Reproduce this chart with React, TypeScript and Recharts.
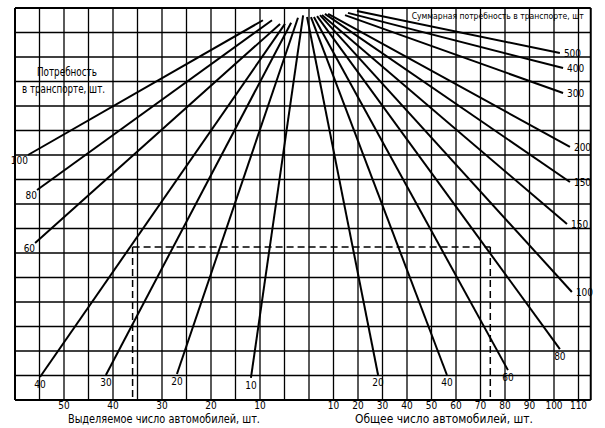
import React from 'react';
import {
  ComposedChart,
  Line,
  XAxis,
  YAxis,
  ReferenceLine,
  ReferenceArea,
  ReferenceDot,
  LabelList,
} from 'recharts';

// ---- Nomogram data (x: unified axis unit, left side = -2 x "выделяемое", right side = "общее"; y: grid rows) ----
const leftLabels = ['100', '80', '60', '40', '30', '20', '10'];
const leftOuterX = [-114.7, -111.0, -111.8, -109.8, -82.9, -53.9, -23.7];
const leftOuterY = [10.0, 8.57, 6.41, 0.94, 1.02, 1.06, 0.9];
const leftInnerX = [-18.8, -15.1, -11.8, -9.8, -7.3, -4.5, -2.4];
const leftInnerY = [15.5, 15.5, 15.35, 15.35, 15.4, 15.6, 15.7];

const rightLabels = ['500', '400', '300', '200', '150', '150', '100', '80', '60', '40', '20'];
const rightOuterX = [102.4, 103.7, 103.7, 106.5, 106.5, 105.3, 107.3, 102.4, 81.2, 56.3, 28.2];
const rightOuterY = [14.16, 13.55, 12.53, 10.33, 8.9, 7.18, 4.41, 2.08, 1.22, 1.02, 1.02];
const rightInnerX = [19.6, 15.9, 14.7, 7.8, 6.5, 5.3, 4.5, 3.3, 2.0, 0.8, -0.8];
const rightInnerY = [15.88, 15.8, 15.71, 15.76, 15.76, 15.71, 15.71, 15.67, 15.63, 15.63, 15.63];

// example reading (dashed): 36 allocated cars -> 74 total cars
const exampleAllocated = 36;
const exampleTotal = 74;
const exampleRow = 6.25;

const leftTickValues = [50, 40, 30, 20, 10];
const rightTickValues = [10, 20, 30, 40, 50, 60, 70, 80, 90, 100, 110];

const gridX = [-110, -100, -90, -80, -70, -60, -50, -40, -30, -20, -10, 0, 10, 20, 30, 40, 50, 60, 70, 80, 90, 100, 110];
const gridY = [1, 2, 3, 4, 5, 6, 7, 8, 9, 10, 11, 12, 13, 14, 15];

const X_MIN = -120;
const X_MAX = 115;
const Y_MIN = 0;
const Y_MAX = 16;

const FONT = "'Liberation Sans Narrow','DejaVu Sans Condensed','Arial Narrow',sans-serif";

type Pt = { u: number; v: number; lab?: string };

const leftSeries: { side: string; data: Pt[] }[] = leftLabels.map((lab, i) => ({
  side: leftOuterY[i] < 2.5 ? 'below' : 'left',
  data: [
    { u: leftInnerX[i], v: leftInnerY[i] },
    { u: leftOuterX[i], v: leftOuterY[i], lab },
  ],
}));

const rightSeries: { side: string; data: Pt[] }[] = rightLabels.map((lab, i) => ({
  side: rightOuterY[i] < 2.5 ? 'below' : 'right',
  data: [
    { u: rightInnerX[i], v: rightInnerY[i] },
    { u: rightOuterX[i], v: rightOuterY[i], lab },
  ],
}));

const dashH: Pt[] = [
  { u: -2 * exampleAllocated, v: exampleRow },
  { u: exampleTotal, v: exampleRow },
];
const dashL: Pt[] = [
  { u: -2 * exampleAllocated, v: exampleRow },
  { u: -2 * exampleAllocated, v: Y_MIN },
];
const dashR: Pt[] = [
  { u: exampleTotal, v: exampleRow },
  { u: exampleTotal, v: Y_MIN },
];

function makeLabel(side: string) {
  return (p: any) => {
    const { x, y, value } = p;
    if (value === undefined || value === null || value === '') return null;
    let tx = x;
    let ty = y;
    let anchor: 'start' | 'middle' | 'end' = 'middle';
    if (side === 'left') {
      tx = x;
      ty = y + 9;
      anchor = 'end';
    } else if (side === 'right') {
      tx = x + 4;
      ty = y + 4;
      anchor = 'start';
    } else {
      ty = y + 11;
    }
    return (
      <text x={tx} y={ty} textAnchor={anchor} fontSize={10} fontFamily={FONT} fill="#000">
        {value}
      </text>
    );
  };
}

function textShape(str: string, len: number, size: number) {
  return (p: any) => (
    <text
      x={p.cx}
      y={p.cy}
      textAnchor="middle"
      fontSize={size}
      fontFamily={FONT}
      fill="#000"
      textLength={len}
      lengthAdjust="spacingAndGlyphs"
    >
      {str}
    </text>
  );
}

const tickFmt = (t: number) => (t < 0 ? String(-t / 2) : String(t));
const allTicks = [...leftTickValues.map((t) => -2 * t), ...rightTickValues];

export default function App() {
  return (
    <div style={{ position: 'absolute', left: 0, top: 0, width: 605, height: 428, background: '#fff' }}>
      <ComposedChart
        width={605}
        height={428}
        margin={{ top: 8, right: 14.25, bottom: 0, left: 15 }}
      >
        <XAxis
          type="number"
          dataKey="u"
          domain={[X_MIN, X_MAX]}
          ticks={allTicks}
          interval={0}
          tickFormatter={tickFmt}
          axisLine={false}
          tickLine={false}
          tickSize={0}
          tickMargin={2}
          height={28}
          allowDataOverflow
          tick={{ fill: '#000', fontSize: 10, fontFamily: FONT }}
        />
        <YAxis type="number" domain={[Y_MIN, Y_MAX]} hide allowDataOverflow />

        {gridX.map((g) => (
          <ReferenceLine key={'gx' + g} x={g} stroke="#000" strokeWidth={1.3} />
        ))}
        {gridY.map((g) => (
          <ReferenceLine key={'gy' + g} y={g} stroke="#000" strokeWidth={1.3} />
        ))}

        <ReferenceArea x1={-119.4} x2={-80.6} y1={12.05} y2={13.95} fill="#fff" fillOpacity={1} stroke="none" />
        <ReferenceArea x1={40.6} x2={114.4} y1={15.05} y2={15.95} fill="#fff" fillOpacity={1} stroke="none" />

        <ReferenceLine x={X_MIN} stroke="#000" strokeWidth={2} />
        <ReferenceLine x={X_MAX} stroke="#000" strokeWidth={2} />
        <ReferenceLine y={Y_MIN} stroke="#000" strokeWidth={2} />
        <ReferenceLine y={Y_MAX} stroke="#000" strokeWidth={2} />

        {leftSeries.map((s, i) => (
          <Line
            key={'l' + i}
            data={s.data}
            dataKey="v"
            type="linear"
            stroke="#000"
            strokeWidth={2}
            dot={false}
            activeDot={false}
            isAnimationActive={false}
          >
            <LabelList dataKey="lab" content={makeLabel(s.side)} />
          </Line>
        ))}
        {rightSeries.map((s, i) => (
          <Line
            key={'r' + i}
            data={s.data}
            dataKey="v"
            type="linear"
            stroke="#000"
            strokeWidth={2}
            dot={false}
            activeDot={false}
            isAnimationActive={false}
          >
            <LabelList dataKey="lab" content={makeLabel(s.side)} />
          </Line>
        ))}

        {[dashH, dashL, dashR].map((d, i) => (
          <Line
            key={'d' + i}
            data={d}
            dataKey="v"
            type="linear"
            stroke="#000"
            strokeWidth={1.5}
            strokeDasharray="7 4"
            dot={false}
            activeDot={false}
            isAnimationActive={false}
          />
        ))}

        <ReferenceDot x={-98.8} y={13.22} r={0} ifOverflow="visible" shape={textShape('Потребность', 60, 12)} />
        <ReferenceDot x={-100.2} y={12.53} r={0} ifOverflow="visible" shape={textShape('в транспорте, шт.', 83, 12)} />
        <ReferenceDot x={77} y={15.57} r={0} ifOverflow="visible" shape={textShape('Суммарная потребность в транспорте, шт', 172, 9.5)} />
        <ReferenceDot x={-59.2} y={-0.94} r={0} ifOverflow="visible" shape={textShape('Выделяемое число автомобилей, шт.', 192, 12)} />
        <ReferenceDot x={55.1} y={-0.94} r={0} ifOverflow="visible" shape={textShape('Общее число автомобилей, шт.', 178, 12)} />
      </ComposedChart>
    </div>
  );
}
